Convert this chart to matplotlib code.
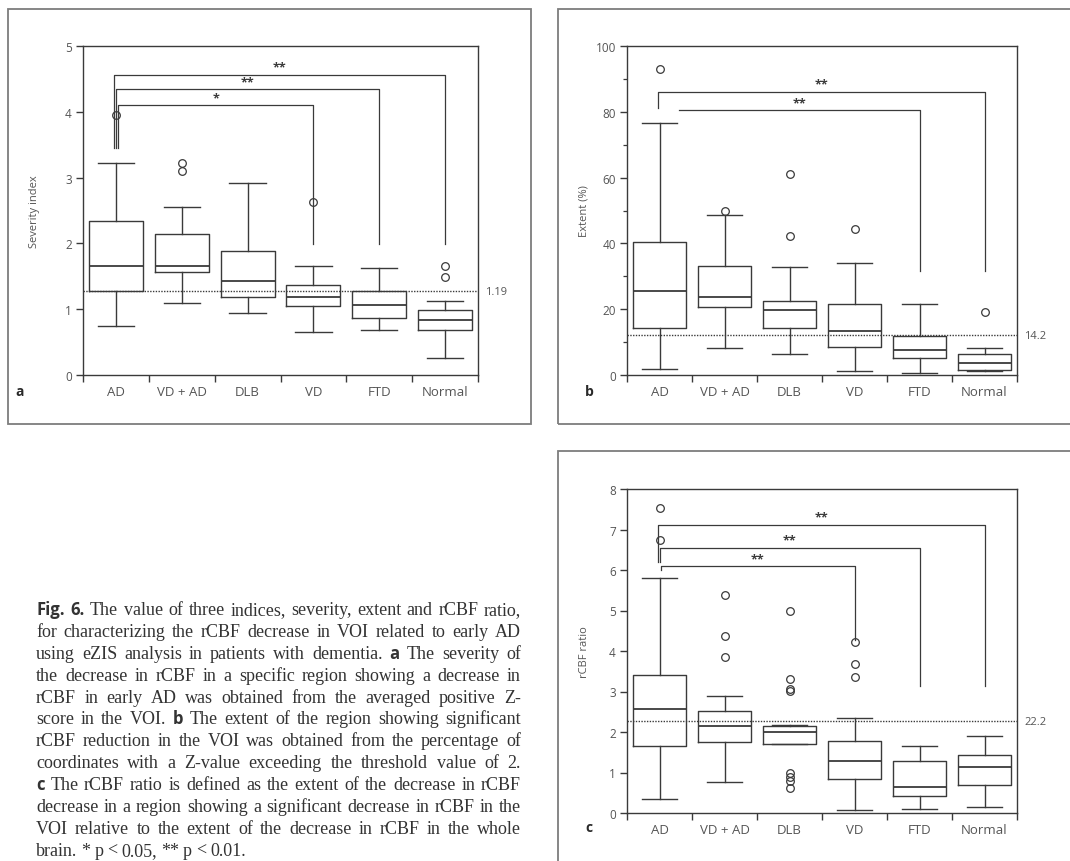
import matplotlib
matplotlib.use("Agg")
import matplotlib.pyplot as plt
from matplotlib.patches import Rectangle
from matplotlib.ticker import MultipleLocator

W, H = 1070, 862

groups = ["AD", "VD + AD", "DLB", "VD", "FTD", "Normal"]

# (lower whisker, Q1, median, Q3, upper whisker) per group
severity_box = [
    (0.75, 1.28, 1.66, 2.34, 3.22),
    (1.09, 1.57, 1.66, 2.14, 2.56),
    (0.94, 1.18, 1.43, 1.89, 2.92),
    (0.65, 1.05, 1.19, 1.37, 1.66),
    (0.68, 0.86, 1.06, 1.28, 1.62),
    (0.26, 0.68, 0.84, 0.99, 1.13),
]
severity_out = [[3.95], [3.10, 3.22], [], [2.63], [], [1.49, 1.66]]
severity_cut = 1.27
severity_cut_text = "1.19"
# (from, to, bar height, label, left leg bottom, right leg bottom)
severity_sig = [
    ("AD", "Normal", 4.56, "**", 3.45, 1.99),
    ("AD", "FTD", 4.34, "**", 3.45, 1.99),
    ("AD", "VD", 4.10, "*", 3.45, 1.99),
]

extent_box = [
    (1.7, 14.4, 25.5, 40.5, 76.5),
    (8.3, 20.8, 23.7, 33.1, 48.5),
    (6.3, 14.4, 19.7, 22.5, 32.8),
    (1.2, 8.6, 13.4, 21.5, 34.1),
    (0.5, 5.1, 7.5, 11.9, 21.7),
    (1.2, 1.5, 3.7, 6.5, 8.2),
]
extent_out = [[92.9], [49.7], [42.4, 61.1], [44.4], [], [19.3]]
extent_cut = 12.1
extent_cut_text = "14.2"
extent_sig = [
    ("AD", "Normal", 86.0, "**", 81.3, 31.6),
    ("AD", "FTD", 80.4, "**", None, 31.6),
]

ratio_box = [
    (0.35, 1.66, 2.57, 3.40, 5.80),
    (0.77, 1.75, 2.14, 2.51, 2.88),
    (1.71, 1.71, 1.99, 2.16, 2.17),
    (0.08, 0.85, 1.28, 1.77, 2.35),
    (0.11, 0.43, 0.63, 1.28, 1.65),
    (0.16, 0.70, 1.14, 1.42, 1.91),
]
ratio_out = [[6.75, 7.53], [3.85, 4.38, 5.39],
             [0.62, 0.78, 0.90, 1.00, 3.02, 3.06, 3.32, 5.00],
             [3.37, 3.68, 4.21], [], []]
ratio_cut = 2.26
ratio_cut_text = "22.2"
ratio_sig = [
    ("AD", "Normal", 7.12, "**", 6.20, 3.13),
    ("AD", "FTD", 6.54, "**", 6.20, 3.13),
    ("AD", "VD", 6.09, "**", 6.00, 4.28),
]

caption = [
    "@Fig. @6. The value of three indices, severity, extent and rCBF ratio,",
    "for characterizing the rCBF decrease in VOI related to early AD",
    "using eZIS analysis in patients with dementia. @a The severity of",
    "the decrease in rCBF in a specific region showing a decrease in",
    "rCBF in early AD was obtained from the averaged positive Z-",
    "score in the VOI. @b The extent of the region showing significant",
    "rCBF reduction in the VOI was obtained from the percentage of",
    "coordinates with a Z-value exceeding the threshold value of 2.",
    "@c The rCBF ratio is defined as the extent of the decrease in rCBF",
    "decrease in a region showing a significant decrease in rCBF in the",
    "VOI relative to the extent of the decrease in rCBF in the whole",
    "brain. * p < 0.05, ** p < 0.01.",
]

ink = "#3a3a3a"
grey = "#555555"
sans = "Open Sans"

fig = plt.figure(figsize=(W / 100, H / 100), dpi=100)


def fx(x):
    return x / W


def fy(y):
    return 1 - y / H


def add_axes(x0, y0, x1, y1):
    return fig.add_axes([fx(x0), fy(y1), fx(x1) - fx(x0), fy(y0) - fy(y1)])


def frame(x0, y0, x1, y1):
    fig.add_artist(Rectangle((fx(x0), fy(y1)), fx(x1) - fx(x0), fy(y0) - fy(y1),
                             transform=fig.transFigure, fill=False,
                             ec="#7d7d7d", lw=1.3))


def panel(ax, box, out, cut, cut_text, sig, ymax, minor, ylabel, ylab_x):
    stats = [dict(whislo=b[0], q1=b[1], med=b[2], q3=b[3], whishi=b[4], fliers=o)
             for b, o in zip(box, out)]
    line = dict(color=ink, lw=1.0)
    ax.bxp(stats, positions=range(1, 7), widths=0.82, capwidths=0.55,
           manage_ticks=False,
           boxprops=line, whiskerprops=line, capprops=line,
           medianprops=dict(color=ink, lw=1.3),
           flierprops=dict(marker="o", mfc="none", mec=ink, ms=5.5, mew=0.9))
    ax.axhline(cut, color=ink, lw=1.0, ls=(0, (1, 1)), zorder=1)
    ax.text(1.018, cut, cut_text, transform=ax.get_yaxis_transform(),
            ha="left", va="center", fontsize=8, color=grey, family=sans)

    pos = {g: i + 1 for i, g in enumerate(groups)}
    for k, (g1, g2, h, lab, lo1, lo2) in enumerate(sig):
        x2 = pos[g2]
        if lo1 is None:
            x1 = pos[g1] + 0.3
            xs, ys = [x1, x2, x2], [h, h, lo2]
        else:
            x1 = pos[g1] + (k - 1) * 0.03
            xs, ys = [x1, x1, x2, x2], [lo1, h, h, lo2]
        ax.plot(xs, ys, color=ink, lw=0.9)
        ax.text((x1 + x2) / 2, h + 0.004 * ymax, lab, ha="center", va="bottom",
                fontsize=9, fontweight="bold", color=ink, family=sans)

    ax.set_xlim(0.5, 6.5)
    ax.set_ylim(0, ymax)
    ax.set_xticks([i + 0.5 for i in range(7)])
    ax.set_xticklabels([])
    ax.set_xticks(range(1, 7), minor=True)
    ax.set_xticklabels(groups, minor=True)
    ax.tick_params(axis="x", which="major", length=5, width=1.0, color=ink)
    ax.tick_params(axis="x", which="minor", length=0, pad=7, labelsize=9.5,
                   labelcolor=grey)
    ax.yaxis.set_major_locator(MultipleLocator(ymax / 5 if ymax == 100 else 1))
    if minor:
        ax.yaxis.set_minor_locator(MultipleLocator(minor))
        ax.tick_params(axis="y", which="minor", length=3, width=0.9, color=ink)
    ax.tick_params(axis="y", which="major", length=5, width=1.0, color=ink,
                   labelsize=8.5, labelcolor=grey, pad=3)
    for lbl in ax.get_xticklabels(minor=True) + ax.get_yticklabels():
        lbl.set_family(sans)
    for s in ax.spines.values():
        s.set_color(ink)
        s.set_linewidth(1.0)
    ax.set_ylabel(ylabel, fontsize=8, color=grey, family=sans)
    ax.yaxis.set_label_coords(ylab_x, 0.5)


frame(8, 10, 531, 425)
frame(558, 10, 1085, 425)
frame(558, 452, 1085, 900)

ax_a = add_axes(83, 47, 478, 376)
panel(ax_a, severity_box, severity_out, severity_cut, severity_cut_text,
      severity_sig, 5, None, "Severity index", -0.11)

ax_b = add_axes(627, 47, 1017, 376)
panel(ax_b, extent_box, extent_out, extent_cut, extent_cut_text,
      extent_sig, 100, 10, "Extent (%)", -0.095)

ax_c = add_axes(627, 490, 1017, 814)
panel(ax_c, ratio_box, ratio_out, ratio_cut, ratio_cut_text,
      ratio_sig, 8, None, "rCBF ratio", -0.095)

for letter, x, y in [("a", 15, 392), ("b", 585, 392), ("c", 585, 828)]:
    fig.text(fx(x), fy(y), letter, ha="left", va="center", fontsize=10,
             fontweight="bold", family=sans, color="#2a2a2a")

# justified caption, word by word
serif = dict(family="Liberation Serif", size=13, color="#333333")
bold = dict(family=sans, weight="bold", size=12, color="#333333")
r = fig.canvas.get_renderer()
x_left, x_right = 36, 521
first_base, step = 615, 21.9
for i, text in enumerate(caption):
    items = []
    for word in text.split():
        props = bold if word.startswith("@") else serif
        t = fig.text(0, 0, word.lstrip("@"), va="baseline", **props)
        items.append((t, t.get_window_extent(r).width))
    total = sum(wd for _, wd in items)
    if i == len(caption) - 1:
        gap = 4.0
    else:
        gap = (x_right - x_left - total) / (len(items) - 1)
    x = x_left
    for t, wd in items:
        t.set_position((fx(x), fy(first_base + i * step)))
        x += wd + gap

fig.savefig("out.png", dpi=100, facecolor="white")
